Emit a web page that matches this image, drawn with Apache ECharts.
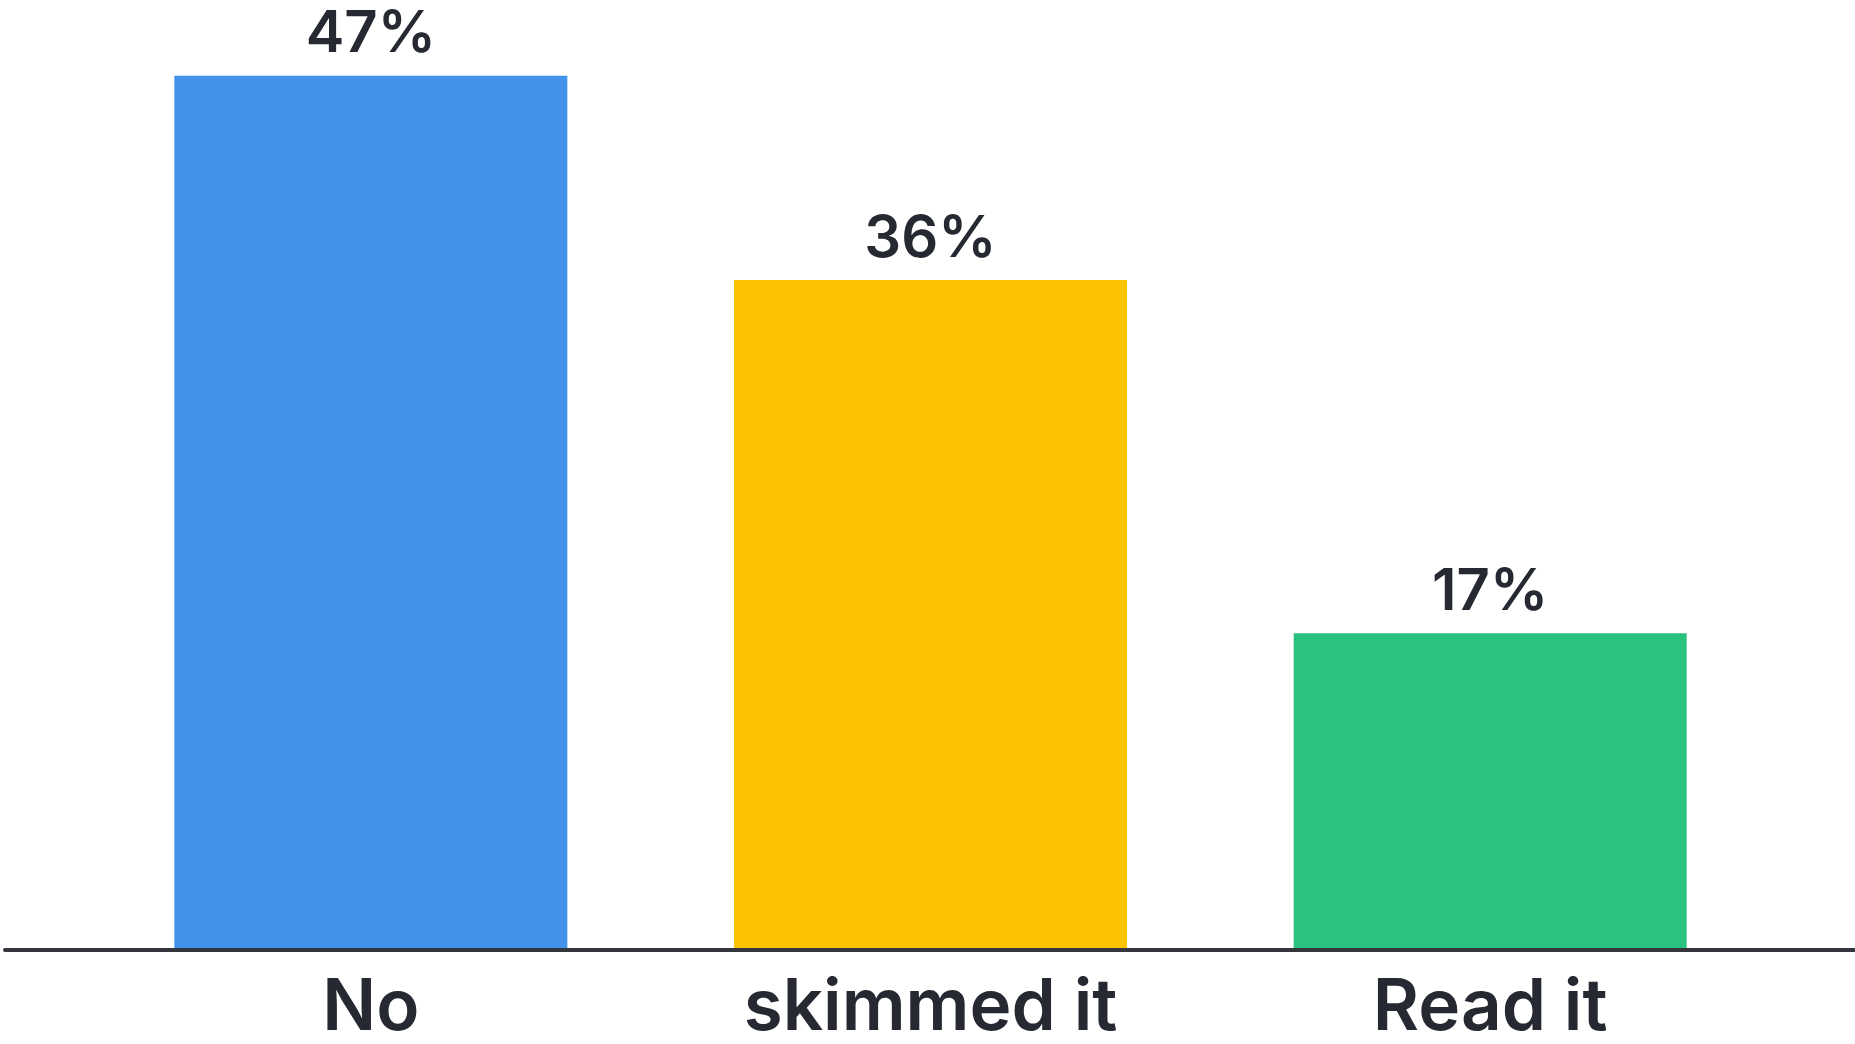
<!DOCTYPE html>
<html>
<head>
<meta charset="utf-8">
<script src="https://cdn.jsdelivr.net/npm/echarts@6/dist/echarts.min.js"></script>
<style>html,body{margin:0;padding:0;background:#fff;}#c{width:1855px;height:1044px;}</style>
</head>
<body>
<div id="c"></div>
<script>
const categories = ["No", "skimmed it", "Read it"];
const values = [47, 36, 17];
const colors = ["#4291EB", "#FCC400", "#29C27E"];

const chart = echarts.init(document.getElementById('c'));
const textColor = '#262932';
const fontFam = 'Inter, "Noto Sans", sans-serif';
chart.setOption({
  backgroundColor: '#ffffff',
  animation: false,
  grid: [
    {left: 91, right: 85, top: 20, bottom: 94},
    {left: 5, right: 0, top: 20, bottom: 94}
  ],
  xAxis: [
    {
      type: 'category', data: categories, gridIndex: 0,
      axisLine: {show: false}, axisTick: {show: false},
      axisLabel: {color: textColor, fontSize: 71, fontWeight: 600, fontFamily: fontFam, margin: 24}
    },
    {
      type: 'value', gridIndex: 1, min: 0, max: 1,
      axisLine: {show: true, lineStyle: {color: '#33373d', width: 4}},
      axisTick: {show: false}, axisLabel: {show: false}, splitLine: {show: false}, z: 10
    }
  ],
  yAxis: [
    {type: 'value', gridIndex: 0, min: 0, max: 50, show: false, splitLine: {show: false}},
    {type: 'value', gridIndex: 1, min: 0, max: 50, show: false, splitLine: {show: false}}
  ],
  series: [{
    type: 'bar', xAxisIndex: 0, yAxisIndex: 0,
    barWidth: 393,
    data: values.map((v, i) => ({value: v, itemStyle: {color: colors[i]}})),
    label: {
      show: true, position: 'top', distance: 12,
      formatter: p => p.value + '%',
      color: textColor, fontSize: 58, fontWeight: 600, fontFamily: fontFam
    }
  }]
});
</script>
</body>
</html>
